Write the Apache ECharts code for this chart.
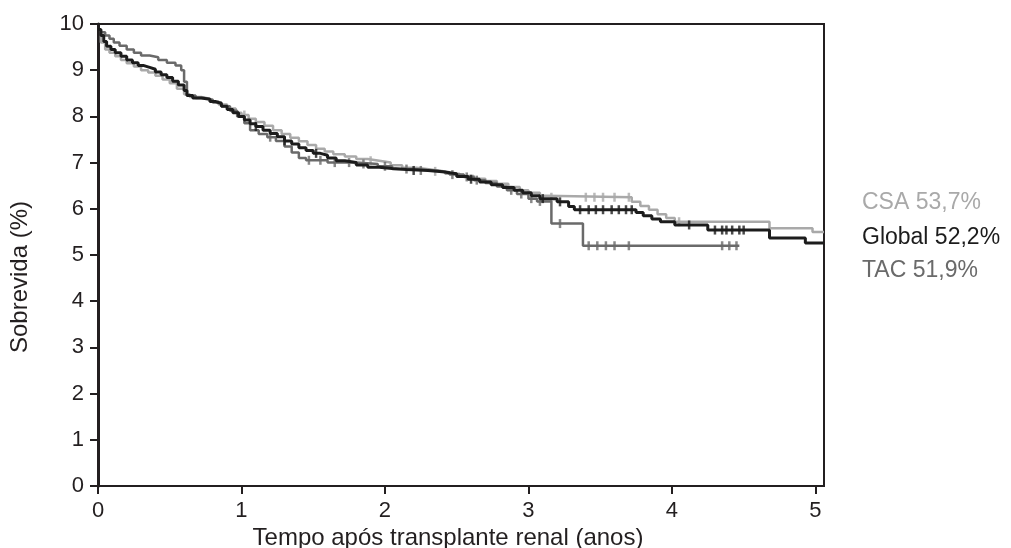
<!DOCTYPE html>
<html>
<head>
<meta charset="utf-8">
<script src="https://cdn.jsdelivr.net/npm/echarts@6/dist/echarts.min.js"></script>
<style>
html,body{margin:0;padding:0;background:#fff;}
#chart{width:1011px;height:548px;}
</style>
</head>
<body>
<div id="chart"></div>
<script>
// Kaplan-Meier step curves: [years, survival]
var csaCurve = [
  [0,9.88],[0.02,9.6],[0.05,9.45],[0.08,9.38],[0.12,9.3],[0.16,9.22],[0.2,9.15],[0.25,9.08],[0.3,9.0],[0.35,8.95],
  [0.4,8.88],[0.45,8.8],[0.5,8.72],[0.55,8.6],[0.6,8.48],[0.64,8.42],[0.72,8.38],[0.78,8.33],[0.84,8.26],[0.9,8.17],
  [0.96,8.08],[1.0,8.03],[1.05,7.95],[1.1,7.88],[1.16,7.8],[1.22,7.7],[1.28,7.62],[1.34,7.54],[1.4,7.46],[1.46,7.38],
  [1.52,7.3],[1.58,7.24],[1.64,7.18],[1.72,7.13],[1.8,7.08],[1.88,7.04],[1.96,7.0],[2.04,6.94],[2.12,6.89],[2.22,6.85],
  [2.32,6.81],[2.42,6.76],[2.52,6.71],[2.62,6.65],[2.7,6.6],[2.78,6.54],[2.86,6.47],[2.94,6.4],[3.0,6.35],[3.08,6.28],
  [3.12,6.25],[3.72,6.15],[3.78,6.06],[3.84,5.98],[3.9,5.88],[3.96,5.8],[4.02,5.72],[4.68,5.58],[4.98,5.5],[5.06,5.5]
];
var globalCurve = [
  [0,9.88],[0.02,9.75],[0.04,9.62],[0.06,9.52],[0.09,9.45],[0.12,9.38],[0.16,9.3],[0.2,9.22],[0.24,9.16],[0.28,9.1],
  [0.32,9.06],[0.36,9.02],[0.4,8.96],[0.44,8.9],[0.48,8.84],[0.52,8.76],[0.56,8.68],[0.6,8.56],[0.62,8.45],[0.66,8.4],
  [0.72,8.37],[0.78,8.32],[0.82,8.28],[0.86,8.22],[0.9,8.15],[0.94,8.08],[0.98,8.0],[1.02,7.92],[1.06,7.84],[1.1,7.78],
  [1.15,7.7],[1.2,7.63],[1.25,7.56],[1.3,7.47],[1.35,7.4],[1.4,7.32],[1.45,7.26],[1.5,7.2],[1.55,7.16],[1.6,7.1],
  [1.66,7.04],[1.72,7.0],[1.8,6.95],[1.88,6.9],[1.96,6.87],[2.05,6.85],[2.15,6.83],[2.3,6.8],[2.4,6.76],[2.5,6.7],
  [2.58,6.64],[2.66,6.58],[2.74,6.52],[2.82,6.46],[2.9,6.4],[2.96,6.35],[3.02,6.28],[3.08,6.22],[3.2,6.15],[3.28,6.05],
  [3.32,5.98],[3.75,5.92],[3.8,5.85],[3.86,5.78],[3.92,5.72],[4.02,5.65],[4.25,5.54],[4.68,5.37],[4.93,5.26],[5.06,5.26]
];
var tacCurve = [
  [0,9.88],[0.02,9.82],[0.05,9.75],[0.08,9.68],[0.11,9.6],[0.15,9.53],[0.2,9.45],[0.25,9.38],[0.3,9.32],[0.36,9.28],
  [0.42,9.22],[0.48,9.16],[0.54,9.1],[0.58,9.0],[0.6,8.75],[0.62,8.45],[0.68,8.4],[0.74,8.36],[0.8,8.3],[0.86,8.22],
  [0.92,8.12],[0.97,8.0],[1.02,7.85],[1.06,7.7],[1.12,7.62],[1.18,7.55],[1.24,7.47],[1.3,7.35],[1.35,7.22],[1.4,7.1],
  [1.45,7.05],[1.6,7.0],[1.8,6.97],[1.95,6.92],[2.05,6.86],[2.2,6.83],[2.35,6.79],[2.45,6.74],[2.55,6.69],[2.62,6.62],
  [2.7,6.56],[2.78,6.48],[2.85,6.4],[2.92,6.32],[3.0,6.22],[3.06,6.16],[3.16,5.68],[3.38,5.2],[4.47,5.2]
];
// censored observations
var csaCensor = [[1.02,8.03],[1.9,7.04],[2.35,6.81],[3.16,6.25],[3.4,6.25],[3.46,6.25],[3.52,6.25],[3.6,6.25],[3.7,6.25],[4.05,5.72]];
var globalCensor = [[1.1,7.78],[1.3,7.47],[1.52,7.2],[2.2,6.83],[2.6,6.64],[3.1,6.22],[3.22,6.15],[3.36,5.98],[3.42,5.98],
  [3.47,5.98],[3.52,5.98],[3.58,5.98],[3.63,5.98],[3.68,5.98],[3.72,5.98],[4.12,5.65],[4.3,5.54],[4.35,5.54],
  [4.38,5.54],[4.42,5.54],[4.47,5.54],[4.5,5.54]];
var tacCensor = [[1.2,7.55],[1.47,7.05],[1.55,7.05],[1.65,7.0],[1.75,7.0],[1.85,6.97],[2.0,6.92],[2.15,6.86],[2.25,6.83],
  [2.47,6.74],[2.57,6.69],[2.64,6.62],[2.88,6.4],[2.95,6.32],[3.02,6.22],[3.08,6.16],[3.22,5.68],[3.42,5.2],[3.48,5.2],
  [3.54,5.2],[3.6,5.2],[3.7,5.2],[4.35,5.2],[4.4,5.2],[4.45,5.2]];
var xTicks = [0,1,2,3,4,5];
var legendLabels = ['CSA 53,7%','Global 52,2%','TAC 51,9%'];
var xTitle = 'Tempo após transplante renal (anos)';
var yTitle = 'Sobrevida (%)';

var cCSA = '#a9a9a9', cGlobal = '#1c1c1c', cTAC = '#6a6a6a', cAxis = '#231f20';
var font = 'Liberation Sans, Arial, sans-serif';

function lineSeries(name, data, color, w, z){
  return {name:name, type:'line', step:'end', data:data, symbol:'none', z:z,
    lineStyle:{color:color, width:w}, animation:false};
}
function censorSeries(name, data, color, z){
  return {name:name+' censor', type:'scatter', data:data, symbol:'rect', symbolSize:[2.5,9], z:z,
    itemStyle:{color:color}, animation:false};
}

var chart = echarts.init(document.getElementById('chart'));
chart.setOption({
  backgroundColor:'#fff',
  animation:false,
  grid:{left:98, right:187, top:24, bottom:62, show:true, borderColor:cAxis, borderWidth:2, backgroundColor:'transparent'},
  xAxis:{type:'value', min:0, max:5.06,
    axisLine:{show:true, onZero:false, lineStyle:{color:cAxis, width:2}},
    axisTick:{show:true, length:8, lineStyle:{color:cAxis, width:2}, customValues:xTicks},
    axisLabel:{fontSize:22, color:cAxis, fontFamily:font, margin:14, customValues:xTicks},
    splitLine:{show:false}},
  yAxis:{type:'value', min:0, max:10, interval:1,
    axisLine:{show:true, lineStyle:{color:cAxis, width:3}},
    axisTick:{show:true, length:8, lineStyle:{color:cAxis, width:2}},
    axisLabel:{fontSize:22, color:cAxis, fontFamily:font, margin:14},
    splitLine:{show:false}},
  series:[
    lineSeries('CSA', csaCurve, cCSA, 2.5, 2),
    lineSeries('TAC', tacCurve, cTAC, 2.5, 3),
    lineSeries('Global', globalCurve, cGlobal, 3, 4),
    censorSeries('CSA', csaCensor, cCSA, 2),
    censorSeries('TAC', tacCensor, cTAC, 3),
    censorSeries('Global', globalCensor, cGlobal, 4)
  ],
  graphic:[
    {type:'text', left:862, top:191, style:{text:legendLabels[0], fill:cCSA, font:'23px '+font}},
    {type:'text', left:862, top:226, style:{text:legendLabels[1], fill:cGlobal, font:'23px '+font}},
    {type:'text', left:862, top:259, style:{text:legendLabels[2], fill:cTAC, font:'23px '+font}},
    {type:'text', x:448, y:538, style:{text:xTitle, fill:cAxis, font:'24px '+font, textAlign:'center', textVerticalAlign:'middle'}},
    {type:'text', x:20, y:277, rotation:Math.PI/2, style:{text:yTitle, fill:cAxis, font:'24px '+font, textAlign:'center', textVerticalAlign:'middle'}}
  ]
});
</script>
</body>
</html>
